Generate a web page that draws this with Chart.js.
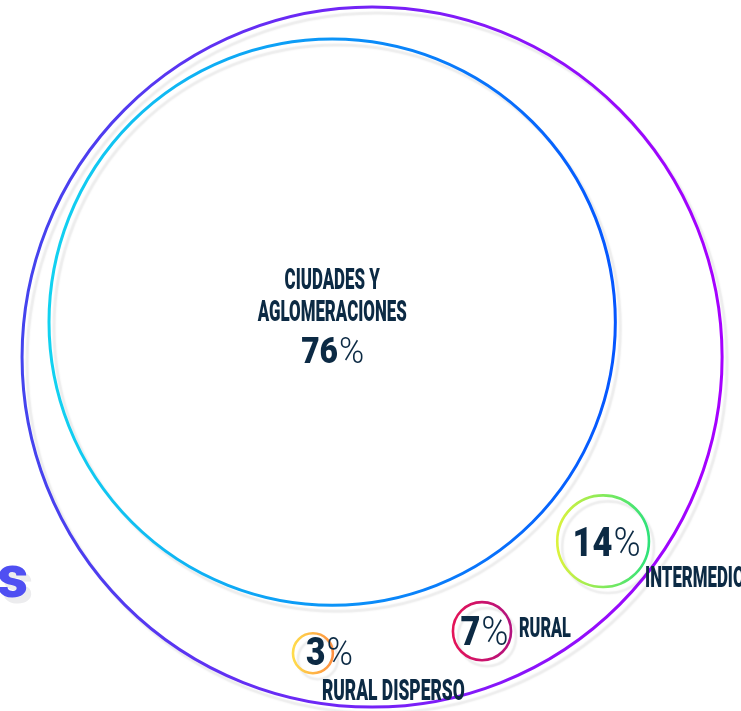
<!DOCTYPE html>
<html>
<head>
<meta charset="utf-8">
<script src="https://cdn.jsdelivr.net/npm/chart.js@4.4.1/dist/chart.umd.min.js"></script>
<style>
  html, body { margin: 0; padding: 0; background: #fff; overflow: hidden; }
  #wrap { width: 741px; height: 711px; }
</style>
</head>
<body>
<div id="wrap"><canvas id="ringChart"></canvas></div>
<script>
// values
const categories = ['CIUDADES Y\nAGLOMERACIONES', 'INTERMEDIO', 'RURAL', 'RURAL DISPERSO'];
const shares = [76, 14, 7, 3];
const totalShare = 100;

// packed-bubble layout in axis units (outer ring has radius 100)
const bubbleX = [0, -11.4, 66, 31.4, -16.9];
const bubbleY = [0, 10, -52.6, -78.3, -84.6];
const bubbleR = [100, 80.9, 13.1, 8.3, 5.7];
const ringColors = [
    ['#4444ee', '#a600ff'],
    ['#12d2f0', '#0556ff'],
    ['#dcf23c', '#2ee27a'],
    ['#e41458', '#b3127e'],
    ['#ffdc4c', '#ff9040']
];

const NAVY = '#0c2a44';
const CAP_FONT = '"Roboto", "Liberation Sans", sans-serif';

/**
 * pixel radius from the x scale
 */
function pixelRadius(chart, r) {
    const sx = chart.scales.x;
    if (!sx) return 0;
    const v = Math.abs(sx.getPixelForValue(r) - sx.getPixelForValue(0));
    return isFinite(v) ? v : 0;
}

function ringGradient(ctx) {
    const chart = ctx.chart;
    const i = ctx.dataIndex;
    if (!chart.scales.x || i === undefined) return ringColors[0][0];
    const cx = chart.scales.x.getPixelForValue(bubbleX[i]);
    const r = pixelRadius(chart, bubbleR[i]);
    if (!isFinite(cx) || !r) return ringColors[i][0];
    const g = chart.ctx.createLinearGradient(cx - r, 0, cx + r, 0);
    g.addColorStop(0, ringColors[i][0]);
    g.addColorStop(1, ringColors[i][1]);
    return g;
}

// soft offset shadow under every ring
const ringShadow = {
    id: 'ringShadow',
    beforeDatasetsDraw(chart) {
        const c = chart.ctx;
        c.save();
        c.shadowColor = 'rgba(0,0,0,0.075)';
        c.shadowOffsetX = 5;
        c.shadowOffsetY = 6;
        c.shadowBlur = 1.5;
    },
    afterDatasetsDraw(chart) {
        chart.ctx.restore();
    }
};

/**
 * Draw horizontally squeezed text
 */
function squeezed(c, text, x, y, sx, align) {
    c.save();
    c.translate(x, y);
    c.scale(sx, 1);
    c.textAlign = align;
    c.fillText(text, 0, 0);
    c.restore();
}

function drawShare(c, value, cx, baseline, size) {
    const sx = 0.86;
    const numFont = '900 ' + size + 'px ' + CAP_FONT;
    const pctFont = '300 ' + size + 'px ' + CAP_FONT;
    c.font = numFont;
    const wNum = c.measureText(String(value)).width * sx;
    c.font = pctFont;
    const wPct = c.measureText('%').width * 0.92;
    const left = cx - (wNum + wPct) / 2;
    c.font = numFont;
    squeezed(c, String(value), left, baseline, sx, 'left');
    c.font = pctFont;
    squeezed(c, '%', left + wNum + 1, baseline, 0.92, 'left');
}

const ringLabels = {
    id: 'ringLabels',
    afterDatasetsDraw(chart) {
        const c = chart.ctx;
        const pts = chart.getDatasetMeta(0).data;
        c.save();
        c.fillStyle = NAVY;
        c.textBaseline = 'alphabetic';

        c.font = '900 29px ' + CAP_FONT;
        const capSx = 149 / c.measureText('AGLOMERACIONES').width;

        // big inner ring
        const p1 = pts[1];
        const lines = categories[0].split('\n');
        squeezed(c, lines[0], p1.x, p1.y - 33, capSx, 'center');
        squeezed(c, lines[1], p1.x, p1.y - 1, capSx, 'center');
        drawShare(c, shares[0], p1.x, p1.y + 41, 37);

        // intermedio
        const p2 = pts[2];
        drawShare(c, shares[1], p2.x + 3, p2.y + 15, 40);
        c.font = '900 29px ' + CAP_FONT;
        squeezed(c, categories[1], p2.x + 42, p2.y + 46, capSx, 'left');

        // rural
        const p3 = pts[3];
        drawShare(c, shares[2], p3.x + 2, p3.y + 14, 40);
        c.font = '900 28px ' + CAP_FONT;
        squeezed(c, categories[2], p3.x + 37, p3.y + 6, capSx, 'left');

        // rural disperso
        const p4 = pts[4];
        drawShare(c, shares[3], p4.x + 16, p4.y + 12, 39);
        c.font = '900 30px ' + CAP_FONT;
        squeezed(c, categories[3], p4.x + 9, p4.y + 47, capSx, 'left');

        // tail of the page title, cut by the left edge
        c.font = '900 60px ' + CAP_FONT;
        c.textAlign = 'right';
        c.fillStyle = '#ececee';
        c.fillText('s', 33, 603);
        c.fillStyle = '#4f4ff2';
        c.fillText('s', 28, 597);
        c.restore();
    }
};

const ctx = document.getElementById('ringChart');
const chart = new Chart(ctx, {
    type: 'bubble',
    data: {
        datasets: [{
            label: 'Población',
            data: bubbleX.map((x, i) => ({x: x, y: bubbleY[i], r: 1, share: i === 0 ? totalShare : shares[i - 1]})),
            backgroundColor: 'rgba(0,0,0,0)',
            borderColor: ringGradient,
            borderWidth: (c) => c.dataIndex < 2 ? 3 : 2.6,
            hoverRadius: 0,
            clip: false
        }]
    },
    options: {
        responsive: true,
        maintainAspectRatio: false,
        animation: false,
        events: [],
        layout: {padding: 0, autoPadding: false},
        plugins: {legend: {display: false}, tooltip: {enabled: false}},
        scales: {
            x: {type: 'linear', display: false, min: -106.3, max: 105.4},
            y: {type: 'linear', display: false, min: -101.1, max: 102}
        }
    },
    plugins: [ringShadow, ringLabels]
});

// bubble radius is in pixels: convert the layout radius through the x scale
chart.data.datasets[0].data.forEach((d, i) => { d.r = pixelRadius(chart, bubbleR[i]); });
chart.update();
</script>
</body>
</html>
